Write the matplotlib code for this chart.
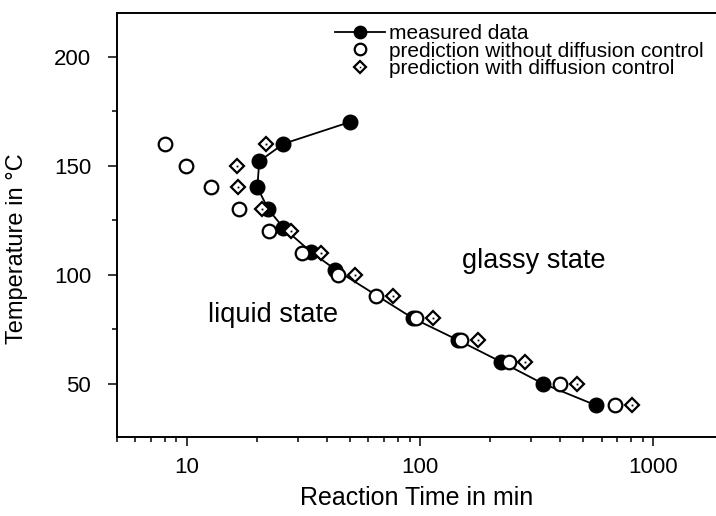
import matplotlib
matplotlib.use("Agg")
import matplotlib.pyplot as plt
from matplotlib.ticker import FixedLocator, FixedFormatter, MultipleLocator, NullFormatter
from matplotlib.legend_handler import HandlerTuple

plt.rcParams['font.family'] = ['Liberation Sans', 'DejaVu Sans']

# measured data (reaction time in min, temperature in °C)
meas_t = [50, 25.9, 20.4, 20.0, 22.3, 25.9, 34.0, 43.3, 93, 145, 222, 336, 569]
meas_T = [170, 160, 152, 140, 130, 121.4, 110.4, 102.3, 80, 70, 60, 50, 40]

# prediction without diffusion control
pred_t = [8.0, 9.9, 12.7, 16.7, 22.5, 31.0, 44.2, 64.6, 96.1, 150, 241, 399, 687]
pred_T = [160, 150, 140, 130, 120, 110, 100, 90, 80, 70, 60, 50, 40]

# prediction with diffusion control
diff_t = [21.8, 16.3, 16.5, 21.0, 27.8, 37.6, 52.6, 76.8, 114, 177, 283, 470, 813]
diff_T = [160, 150, 140, 130, 120, 110, 100, 90, 80, 70, 60, 50, 40]

x_ticks = [10, 100, 1000]
x_ticklabels = ["10", "100", "1000"]
y_ticks = [50, 100, 150, 200]

fig = plt.figure(figsize=(7.16, 5.16), dpi=100)
ax = fig.add_axes([117/716, 1-437/516, 1-117/716, (437-13)/516])

ln, = ax.plot(meas_t, meas_T, '-', color='black', lw=1.3, marker='o', ms=10.5,
              mfc='black', mec='black', mew=1, zorder=3)
op, = ax.plot(pred_t, pred_T, 'o', ms=9.8, mfc='white', mec='black', mew=1.6, zorder=4)
dm, = ax.plot(diff_t, diff_T, 'D', ms=7.6, mfc='white', mec='black', mew=1.6, zorder=5)
dt, = ax.plot(diff_t, diff_T, 's', ms=1.3, mfc='black', mec='black', mew=0, zorder=6)

ax.set_xscale('log')
ax.set_xlim(5, 1860)
ax.set_ylim(25.5, 220)

ax.xaxis.set_major_locator(FixedLocator(x_ticks))
ax.xaxis.set_major_formatter(FixedFormatter(x_ticklabels))
ax.xaxis.set_minor_formatter(NullFormatter())
ax.yaxis.set_major_locator(FixedLocator(y_ticks))
ax.yaxis.set_minor_locator(MultipleLocator(25))

ax.tick_params(which='major', direction='out', length=6.5, width=1.1, labelsize=16)
ax.tick_params(axis='y', which='major', pad=12)
ax.tick_params(axis='x', which='major', pad=8)
ax.tick_params(which='minor', direction='out', length=3.6, width=1.1)

for s in ['left', 'bottom', 'top']:
    ax.spines[s].set_linewidth(1.4)
ax.spines['right'].set_visible(False)

ax.set_xlabel('Reaction Time in min', fontsize=18, labelpad=6)
ax.set_ylabel('Temperature in °C', fontsize=17, labelpad=8)
ax.yaxis.set_label_coords(-0.148, 0.445)

ax.text(151, 103.2, 'glassy state', fontsize=19.5, ha='left', va='baseline')
ax.text(12.3, 78.1, 'liquid state', fontsize=19.5, ha='left', va='baseline')

leg = ax.legend([ln, op, (dm, dt)],
                ['measured data', 'prediction without diffusion control',
                 'prediction with diffusion control'],
                handler_map={tuple: HandlerTuple(ndivide=1, pad=0)},
                loc='upper left', bbox_to_anchor=(0.364, 0.974), frameon=False,
                fontsize=15, labelspacing=-0.07, handlelength=2.4, handletextpad=0.2,
                borderpad=0, borderaxespad=0, markerscale=0.85)

fig.savefig('out.png', dpi=100)
